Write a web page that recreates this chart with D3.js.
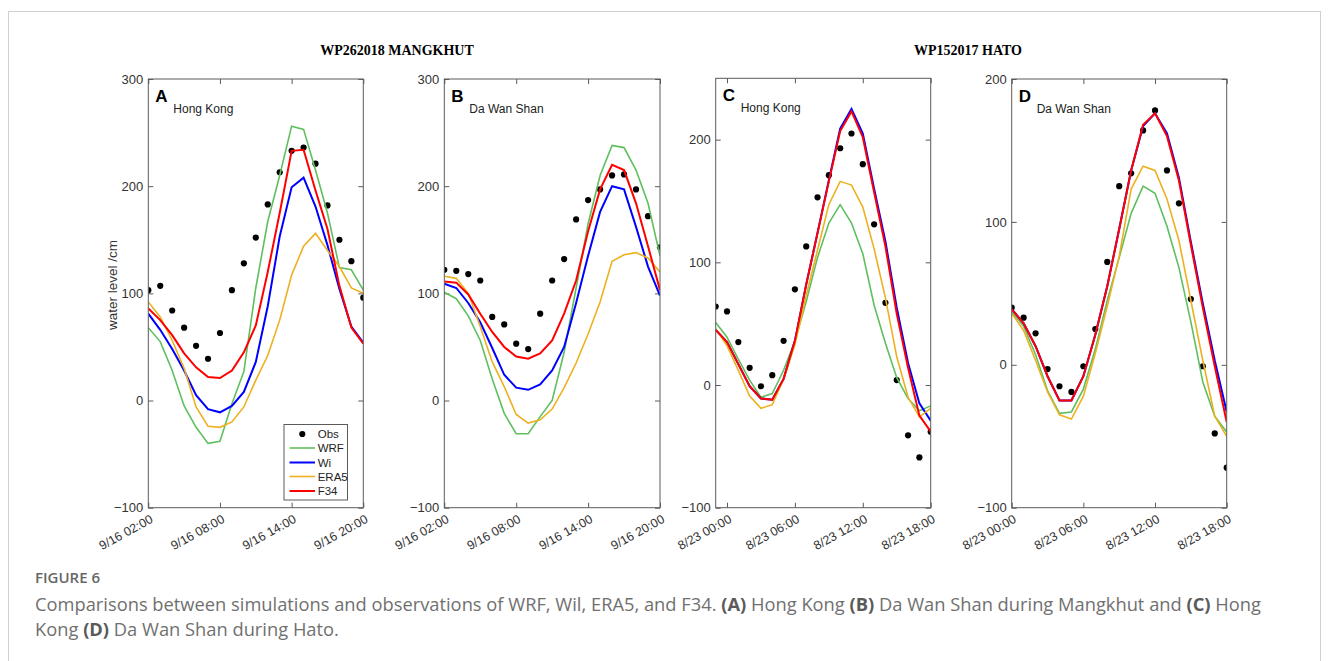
<!DOCTYPE html>
<html>
<head>
<meta charset="utf-8">
<script src="https://cdn.jsdelivr.net/npm/d3@7"></script>
<style>
  html, body { margin: 0; padding: 0; background: #fff; }
  svg { display: block; }
</style>
</head>
<body>
<svg id="chart" width="1328" height="661"></svg>
<script>
// ---------------- DATA (hourly values, cm) ----------------
const seriesNames = ["Obs", "WRF", "Wi", "ERA5", "F34"];
const seriesColors = { WRF: "#5fbf5f", Wi: "#0000ff", ERA5: "#edb120", F34: "#ff0000" };

// Panel A — Mangkhut, Hong Kong, 9/16 02:00 .. 20:00
const obsA  = [103,107,84,68,51,39,63,103,128,152,183,213,233,236,221,182,150,130,96];
const wrfA  = [68,55,28,-5,-25,-40,-38,-3,27,105,167,210,256,253,215,175,124,122,103];
const wiA   = [81,66,48,28,5,-8,-11,-5,8,36,88,153,199,208,181,145,104,69,54];
const era5A = [92,78,56,30,-6,-24,-25,-20,-6,19,42,75,117,144,156,140,125,105,100];
const f34A  = [86,75,61,44,31,22,21,28,45,70,120,175,233,234,196,160,107,68,53];

// Panel B — Mangkhut, Da Wan Shan, 9/16 02:00 .. 20:00
const obsB  = [122,121,118,112,78,71,53,48,81,112,132,169,187,197,210,211,197,172,143];
const wrfB  = [101,95,79,56,20,-12,-31,-31,-15,0,45,105,165,210,238,236,215,184,135];
const wiB   = [109,105,91,73,49,24,12,10,15,28,50,91,135,176,200,197,162,125,98];
const era5B = [116,114,100,69,36,13,-13,-21,-18,-8,12,35,62,92,130,136,138,133,120];
const f34B  = [111,110,99,81,64,50,41,39,44,56,81,112,158,197,220,215,184,144,103];

// Panel C — Hato, Hong Kong, 8/22 23:00 .. 8/23 18:00
const obsC  = [64,60,35,14,-1,8,36,78,113,153,171,193,205,180,131,67,4,-41,-59,-38];
const wrfC  = [51,39,21,4,-10,-7,12,36,68,104,132,147,132,107,65,34,6,-11,-21,-17];
const wiC   = [45,35,17,-1,-11,-12,5,36,82,124,167,209,225,205,160,117,63,18,-15,-29];
const era5C = [46,32,12,-9,-19,-16,5,33,73,110,147,166,163,145,111,71,23,-10,-26,-19];
const f34C  = [45,35,17,-1,-11,-12,5,36,82,124,166,207,223,202,157,113,58,14,-25,-38];

// Panel D — Hato, Da Wan Shan, 8/23 00:00 .. 18:00
const obsD  = [40,33,22,-3,-15,-19,-1,25,72,125,134,164,178,136,113,46,-1,-48,-72];
const wrfD  = [37,27,7,-18,-34,-33,-17,11,45,75,106,125,120,97,68,30,-12,-36,-47];
const wiD   = [39,29,13,-8,-25,-25,-8,21,55,95,136,167,176,162,131,86,43,3,-33];
const era5D = [36,24,3,-19,-35,-38,-22,8,41,76,123,139,136,116,87,45,3,-36,-50];
const f34D  = [39,29,13,-8,-25,-25,-8,21,55,95,136,168,176,160,129,84,40,-1,-40];

// Time axes
const startA = "2018-09-16T02:00", startB = "2018-09-16T02:00";
const startC = "2017-08-22T23:00", startD = "2017-08-23T00:00";
const domainA = ["2018-09-16T02:00", "2018-09-16T20:00"];
const domainC = ["2017-08-22T23:00", "2017-08-23T18:00"];
const domainD = ["2017-08-23T00:00", "2017-08-23T18:00"];
const ticksMangkhut = ["2018-09-16T02:00","2018-09-16T08:00","2018-09-16T14:00","2018-09-16T20:00"];
const ticksHato     = ["2017-08-23T00:00","2017-08-23T06:00","2017-08-23T12:00","2017-08-23T18:00"];

const yTicksAB = [-100, 0, 100, 200, 300];
const yTicksCD = [-100, 0, 100, 200];

const stormTitles = ["WP262018 MANGKHUT", "WP152017 HATO"];
const captionHead = "FIGURE 6";

// ---------------- LAYOUT ----------------
const panels = [
  { letter: "A", station: "Hong Kong",   x0: 148.3, x1: 363.3, y0: 79, y1: 507.7, yDom: [-100, 300], yTicks: yTicksAB,
    start: startA, xDom: domainA, xTicks: ticksMangkhut, data: { Obs: obsA, WRF: wrfA, Wi: wiA, ERA5: era5A, F34: f34A }, legend: true, ylabel: true },
  { letter: "B", station: "Da Wan Shan", x0: 444.3, x1: 660,   y0: 79, y1: 507.7, yDom: [-100, 300], yTicks: yTicksAB,
    start: startB, xDom: domainA, xTicks: ticksMangkhut, data: { Obs: obsB, WRF: wrfB, Wi: wiB, ERA5: era5B, F34: f34B } },
  { letter: "C", station: "Hong Kong",   x0: 715.7, x1: 930.7, y0: 78.3, y1: 507.7, yDom: [-100, 250], yTicks: yTicksCD,
    start: startC, xDom: domainC, xTicks: ticksHato, data: { Obs: obsC, WRF: wrfC, Wi: wiC, ERA5: era5C, F34: f34C } },
  { letter: "D", station: "Da Wan Shan", x0: 1011.7, x1: 1226.7, y0: 79, y1: 507.7, yDom: [-100, 200], yTicks: yTicksCD,
    start: startD, xDom: domainD, xTicks: ticksHato, data: { Obs: obsD, WRF: wrfD, Wi: wiD, ERA5: era5D, F34: f34D } }
];

const svg = d3.select("#chart");
const axisColor = "#5a5a5a";
const textColor = "#333";
const fmt = d3.timeFormat("%-m/%d %H:%M");
const parse = s => new Date(s);

// Figure frame
svg.append("rect").attr("x", 8.5).attr("y", 11.5).attr("width", 1312).attr("height", 700)
  .attr("fill", "none").attr("stroke", "#d0d0d0").attr("stroke-width", 1);

// Storm titles
svg.append("text").attr("x", 397).attr("y", 55).attr("text-anchor", "middle")
  .attr("font-family", "Liberation Serif, Times New Roman, serif").attr("font-weight", "bold")
  .attr("font-size", 14).attr("fill", "#000").text(stormTitles[0]);
svg.append("text").attr("x", 968).attr("y", 55).attr("text-anchor", "middle")
  .attr("font-family", "Liberation Serif, Times New Roman, serif").attr("font-weight", "bold")
  .attr("font-size", 14).attr("fill", "#000").text(stormTitles[1]);

panels.forEach(p => {
  const x = d3.scaleTime().domain(p.xDom.map(parse)).range([p.x0, p.x1]);
  const y = d3.scaleLinear().domain(p.yDom).range([p.y1, p.y0]);
  const g = svg.append("g");
  const t0 = parse(p.start);
  const timeAt = i => d3.timeHour.offset(t0, i);

  // Bottom axis
  const xb = g.append("g").attr("transform", `translate(0,${p.y1})`)
    .call(d3.axisBottom(x).tickValues(p.xTicks.map(parse)).tickSize(-5).tickFormat(fmt).tickPadding(0));
  xb.select(".domain").remove();
  xb.selectAll("line").attr("stroke", axisColor);
  xb.selectAll("text")
    .attr("font-family", "Liberation Sans, Arial, sans-serif").attr("font-size", 12.5).attr("fill", textColor)
    .attr("text-anchor", "end").attr("dy", null).attr("y", null)
    .attr("transform", "translate(5,14) rotate(-29)");
  // Top ticks
  const xt = g.append("g").attr("transform", `translate(0,${p.y0})`)
    .call(d3.axisTop(x).tickValues(p.xTicks.map(parse)).tickSize(-5).tickFormat(""));
  xt.select(".domain").remove();
  xt.selectAll("line").attr("stroke", axisColor);

  // Left axis
  const yl = g.append("g").attr("transform", `translate(${p.x0},0)`)
    .call(d3.axisLeft(y).tickValues(p.yTicks).tickSize(-5).tickPadding(5));
  yl.select(".domain").remove();
  yl.selectAll("line").attr("stroke", axisColor);
  yl.selectAll("text").attr("font-family", "Liberation Sans, Arial, sans-serif").attr("font-size", 13).attr("fill", textColor);
  // Right ticks
  const yr = g.append("g").attr("transform", `translate(${p.x1},0)`)
    .call(d3.axisRight(y).tickValues(p.yTicks).tickSize(-5).tickFormat(""));
  yr.select(".domain").remove();
  yr.selectAll("line").attr("stroke", axisColor);

  // Clip
  const clipId = "clip" + p.letter;
  svg.append("clipPath").attr("id", clipId).append("rect")
    .attr("x", p.x0).attr("y", p.y0).attr("width", p.x1 - p.x0).attr("height", p.y1 - p.y0);
  const plot = g.append("g").attr("clip-path", `url(#${clipId})`);

  // Obs dots
  plot.selectAll("circle.obs").data(p.data.Obs).join("circle").attr("class", "obs")
    .attr("cx", (d, i) => x(timeAt(i))).attr("cy", d => y(d)).attr("r", 3.1).attr("fill", "#000");

  // Lines
  const line = d3.line().x((d, i) => x(timeAt(i))).y(d => y(d));
  ["WRF", "Wi", "ERA5", "F34"].forEach(k => {
    plot.append("path").datum(p.data[k]).attr("d", line).attr("fill", "none")
      .attr("stroke", seriesColors[k]).attr("stroke-width", (k === "WRF" || k === "ERA5") ? 1.6 : 2)
      .attr("stroke-linejoin", "miter");
  });

  // Box
  g.append("rect").attr("x", p.x0).attr("y", p.y0).attr("width", p.x1 - p.x0).attr("height", p.y1 - p.y0)
    .attr("fill", "none").attr("stroke", axisColor).attr("stroke-width", 1);

  // Letter + station
  g.append("text").attr("x", p.x0 + 7).attr("y", p.y0 + 23).attr("font-family", "Liberation Sans, Arial, sans-serif")
    .attr("font-weight", "bold").attr("font-size", 17).attr("fill", "#000").text(p.letter);
  g.append("text").attr("x", p.x0 + 25).attr("y", p.y0 + 34).attr("font-family", "Liberation Sans, Arial, sans-serif")
    .attr("font-size", 12).attr("fill", "#222").text(p.station);

  if (p.ylabel) {
    g.append("text").attr("transform", `translate(117,285) rotate(-90)`)
      .attr("text-anchor", "middle").attr("font-family", "Liberation Sans, Arial, sans-serif")
      .attr("font-size", 13.5).attr("fill", textColor).text("water level /cm");
  }

  if (p.legend) {
    const lg = g.append("g");
    lg.append("rect").attr("x", 284).attr("y", 424.5).attr("width", 63.5).attr("height", 75.5)
      .attr("fill", "#fff").attr("stroke", axisColor).attr("stroke-width", 1);
    const rowY = [434, 448, 462.5, 476.5, 491];
    seriesNames.forEach((k, i) => {
      if (k === "Obs") {
        lg.append("circle").attr("cx", 302.3).attr("cy", rowY[i]).attr("r", 3.1).attr("fill", "#000");
      } else {
        lg.append("line").attr("x1", 289.5).attr("x2", 315).attr("y1", rowY[i]).attr("y2", rowY[i])
          .attr("stroke", seriesColors[k]).attr("stroke-width", (k === "WRF" || k === "ERA5") ? 1.6 : 2);
      }
      lg.append("text").attr("x", 317.7).attr("y", rowY[i]).attr("dy", "0.35em")
        .attr("font-family", "Liberation Sans, Arial, sans-serif").attr("font-size", 11.5).attr("fill", "#222").text(k);
    });
  }
});

// Caption
svg.append("text").attr("x", 35).attr("y", 583).attr("font-family", "Open Sans, sans-serif")
  .attr("font-weight", 600).attr("font-size", 15).attr("fill", "#666").text(captionHead);

const capLines = [
  [["Comparisons between simulations and observations of WRF, Wil, ERA5, and F34. ", false], ["(A)", true], [" Hong Kong ", false], ["(B)", true], [" Da Wan Shan during Mangkhut and ", false], ["(C)", true], [" Hong", false]],
  [["Kong ", false], ["(D)", true], [" Da Wan Shan during Hato.", false]]
];
const capTexts = capLines.map((ln, li) => {
  const t = svg.append("text").attr("x", 35).attr("y", 611 + li * 25)
    .attr("font-family", "Open Sans, sans-serif").attr("font-size", 17).attr("fill", "#707070");
  ln.forEach(([s, b]) => {
    t.append("tspan").attr("font-weight", b ? 700 : 400).attr("fill", b ? "#5a5a5a" : "#707070").text(s);
  });
  return t;
});
// fit first caption line to the reference width (35 → 1262)
const w0 = capTexts[0].node().getComputedTextLength();
const fs = 17 * 1227 / w0;
capTexts.forEach(t => t.attr("font-size", fs.toFixed(2)));
</script>
</body>
</html>
